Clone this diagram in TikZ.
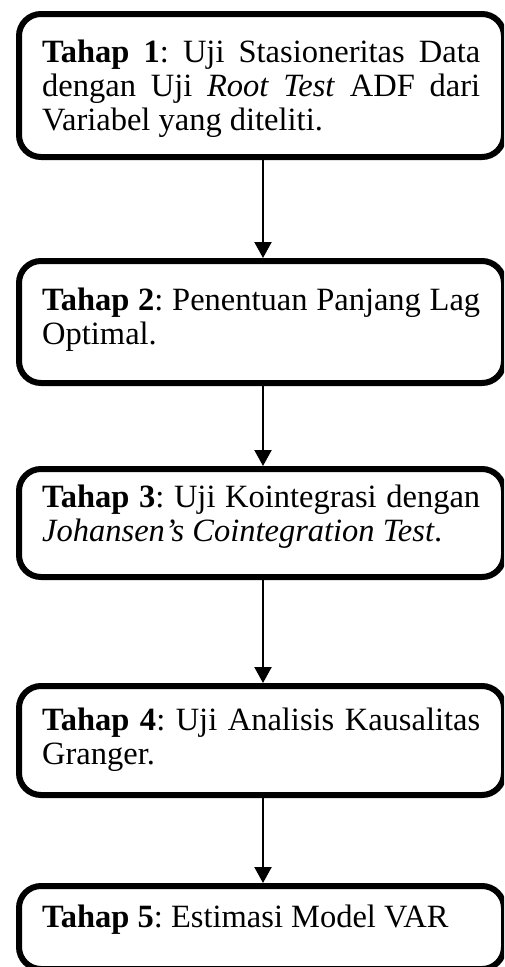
\documentclass[tikz,border=0pt]{standalone}
\usepackage{fontspec}
\setmainfont{Liberation Serif}
\usetikzlibrary{arrows.meta,calc}
\hyphenpenalty=10000
\exhyphenpenalty=10000
\frenchspacing
\begin{document}
\begin{tikzpicture}[x=1pt,y=-1pt,
  box/.style={draw=black, line width=6pt, rounded corners=22pt, minimum width=485pt, anchor=north west, inner sep=0pt},
  txt/.style={anchor=base west, inner sep=0pt, text width=438pt, align=justify, font=\fontsize{32.5}{34}\selectfont\frenchspacing},
  arr/.style={line width=2.2pt, -{Triangle[width=17pt,length=16pt]}}]
\useasboundingbox (0,0) rectangle (504,967);
\clip (0,0) rectangle (504,967);
\node[box, minimum height=143pt] (b1) at (16,11) {};
\node[box, minimum height=122pt] (b2) at (16,258) {};
\node[box, minimum height=108pt] (b3) at (16,466) {};
\node[box, minimum height=109pt] (b4) at (16,683) {};
\node[box, minimum height=83pt] (b5) at (16,883) {};
\node[txt] (t1) at (42,62) {\textbf{Tahap 1}: Uji Stasioneritas Data\linebreak dengan Uji \textit{Root Test} ADF dari\linebreak Variabel yang diteliti.};
\node[txt] (t2) at (42,310) {\textbf{Tahap 2}: Penentuan Panjang Lag\linebreak Optimal.};
\node[txt] (t3) at (42,507) {\textbf{Tahap 3}: Uji Kointegrasi dengan\linebreak \textit{Johansen's Cointegration Test}.};
\node[txt] (t4) at (42,730) {\textbf{Tahap 4}: Uji Analisis Kausalitas\linebreak Granger.};
\node[txt] (t5) at (42,927) {\textbf{Tahap 5}: Estimasi Model VAR};
\coordinate (ax) at (263,0);
\draw[arr] (b1.south -| ax) -- (b2.north -| ax);
\draw[arr] (b2.south -| ax) -- (b3.north -| ax);
\draw[arr] (b3.south -| ax) -- (b4.north -| ax);
\draw[arr] (b4.south -| ax) -- (b5.north -| ax);
\end{tikzpicture}
\end{document}
